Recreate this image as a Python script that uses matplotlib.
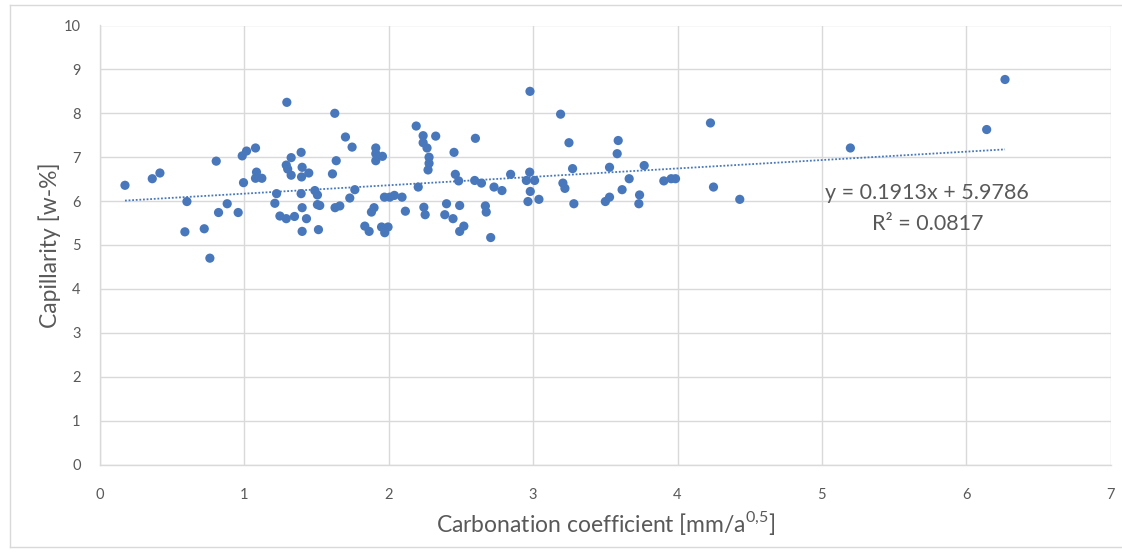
#!/usr/bin/env python3
"""Capillarity vs carbonation coefficient scatter with linear trendline."""
import matplotlib
matplotlib.use("Agg")
import matplotlib.pyplot as plt
from matplotlib.lines import Line2D
import numpy as np

carbonation = [
    0.173, 0.362, 0.415, 0.602, 0.588, 0.722, 0.761, 0.805, 0.821, 0.881,
    0.957, 0.985, 1.015, 0.994, 1.077, 1.084, 1.077, 1.121, 1.294,
    1.393, 1.324, 1.290, 1.300, 1.324, 1.400, 1.396, 1.446, 1.636, 1.610,
    1.746, 1.223, 1.211, 1.393, 1.488, 1.506, 1.506, 1.522, 1.400, 1.246,
    1.290, 1.347, 1.430, 1.400, 1.513, 1.628, 1.661, 1.730, 1.765, 1.626, 1.700,
    1.910, 1.910, 1.956, 1.910, 2.190, 2.238, 2.325, 2.238, 2.265, 2.279,
    2.279, 2.272, 2.204, 1.970, 2.007, 2.039, 2.092, 1.898, 1.880, 2.115,
    2.243, 2.252, 1.834, 1.864, 1.950, 1.995, 1.972, 2.388, 2.400,
    2.452, 2.461, 2.484, 2.491, 2.445, 2.595, 2.642, 2.844, 2.729, 2.784,
    2.976, 2.953, 3.010, 2.980, 2.964, 2.669, 2.675, 2.491, 2.520, 2.706,
    2.600, 2.978, 3.040,
    3.190, 3.248, 3.273, 3.206, 3.220, 3.282,
    3.500, 3.529, 3.529, 3.589, 3.582, 3.616, 3.665, 3.737, 3.732, 3.769,
    3.905, 3.956, 3.986, 4.228, 4.249, 4.431,
    5.197, 6.141, 6.268,
]
capillarity = [
    6.36, 6.51, 6.64, 5.99, 5.30, 5.37, 4.70, 6.91, 5.74, 5.94,
    5.74, 7.03, 7.14, 6.42, 7.21, 6.66, 6.52, 6.52, 8.25,
    7.11, 6.99, 6.82, 6.73, 6.59, 6.77, 6.55, 6.64, 6.92, 6.62,
    7.23, 6.17, 5.95, 6.17, 6.24, 6.14, 5.92, 5.90, 5.85, 5.66,
    5.60, 5.65, 5.60, 5.31, 5.35, 5.85, 5.89, 6.07, 6.26, 8.00, 7.46,
    7.21, 7.08, 7.02, 6.92, 7.71, 7.49, 7.48, 7.33, 7.21, 7.00,
    6.86, 6.71, 6.32, 6.09, 6.09, 6.13, 6.09, 5.85, 5.75, 5.77,
    5.86, 5.69, 5.43, 5.31, 5.41, 5.41, 5.28, 5.69, 5.94,
    7.11, 6.61, 6.46, 5.90, 5.60, 6.47, 6.41, 6.61, 6.32, 6.24,
    6.66, 6.47, 6.47, 6.22, 5.99, 5.89, 5.75, 5.31, 5.43, 5.17,
    7.43, 8.50, 6.04,
    7.98, 7.33, 6.74, 6.41, 6.29, 5.94,
    5.99, 6.09, 6.77, 7.38, 7.08, 6.26, 6.51, 6.14, 5.94, 6.81,
    6.46, 6.51, 6.51, 7.78, 6.32, 6.04,
    7.21, 7.63, 8.77,
]
trend_slope = 0.1913
trend_intercept = 5.9786
r_squared = 0.0817

x_ticks = [0, 1, 2, 3, 4, 5, 6, 7]
y_ticks = [0, 1, 2, 3, 4, 5, 6, 7, 8, 9, 10]

BLUE = "#4878bb"
GREY_TXT = "#595959"
GRID = "#d9d9d9"

plt.rcParams["font.family"] = ["Lato", "DejaVu Sans"]
plt.rcParams["mathtext.fontset"] = "custom"
plt.rcParams["mathtext.rm"] = "Lato"

fig = plt.figure(figsize=(11.22, 5.52), dpi=100)
ax = fig.add_axes([100 / 1122, 1 - 464.5 / 552, 1010.7 / 1122, 439 / 552])

ax.scatter(carbonation, capillarity, s=44, color=BLUE, edgecolors="none", zorder=3)

x_line = np.array([min(carbonation), max(carbonation)])
ax.plot(x_line, trend_slope * x_line + trend_intercept, color=BLUE,
        linestyle=(0, (1, 1)), linewidth=1.3, zorder=2)

ax.set_xlim(0, 7)
ax.set_ylim(0, 10)
ax.set_xticks(x_ticks)
ax.set_yticks(y_ticks)
ax.grid(True, color=GRID, linewidth=1.0)
ax.set_axisbelow(True)
for side in ["top", "right"]:
    ax.spines[side].set_visible(False)
for side in ["left", "bottom"]:
    ax.spines[side].set_color(GRID)
    ax.spines[side].set_linewidth(1.0)
ax.tick_params(length=0, colors=GREY_TXT, labelsize=10.5)
ax.tick_params(axis="x", pad=17)
ax.tick_params(axis="y", pad=14)

ax.set_xlabel("Carbonation coefficient [mm/a$^{\\mathrm{0{,}5}}$]", fontsize=16.5,
              color=GREY_TXT, labelpad=5)
ax.set_ylabel("Capillarity [w-%]", fontsize=16.5, color=GREY_TXT, labelpad=2)

ax.text(5.73, 5.83, f"y = {trend_slope}x + {trend_intercept}\nR² = {r_squared}",
        ha="center", va="center", fontsize=15.5, color=GREY_TXT, linespacing=1.7)

# chart area border
fig.add_artist(Line2D([10 / 1122, 1.0], [1 - 5 / 552] * 2, color=GRID, linewidth=1.0))
fig.add_artist(Line2D([10 / 1122] * 2, [1 - 5 / 552, 1 - 547 / 552], color=GRID, linewidth=1.0))
fig.add_artist(Line2D([10 / 1122, 1.0], [1 - 547 / 552] * 2, color=GRID, linewidth=1.0))

fig.savefig("out.png", dpi=100)
